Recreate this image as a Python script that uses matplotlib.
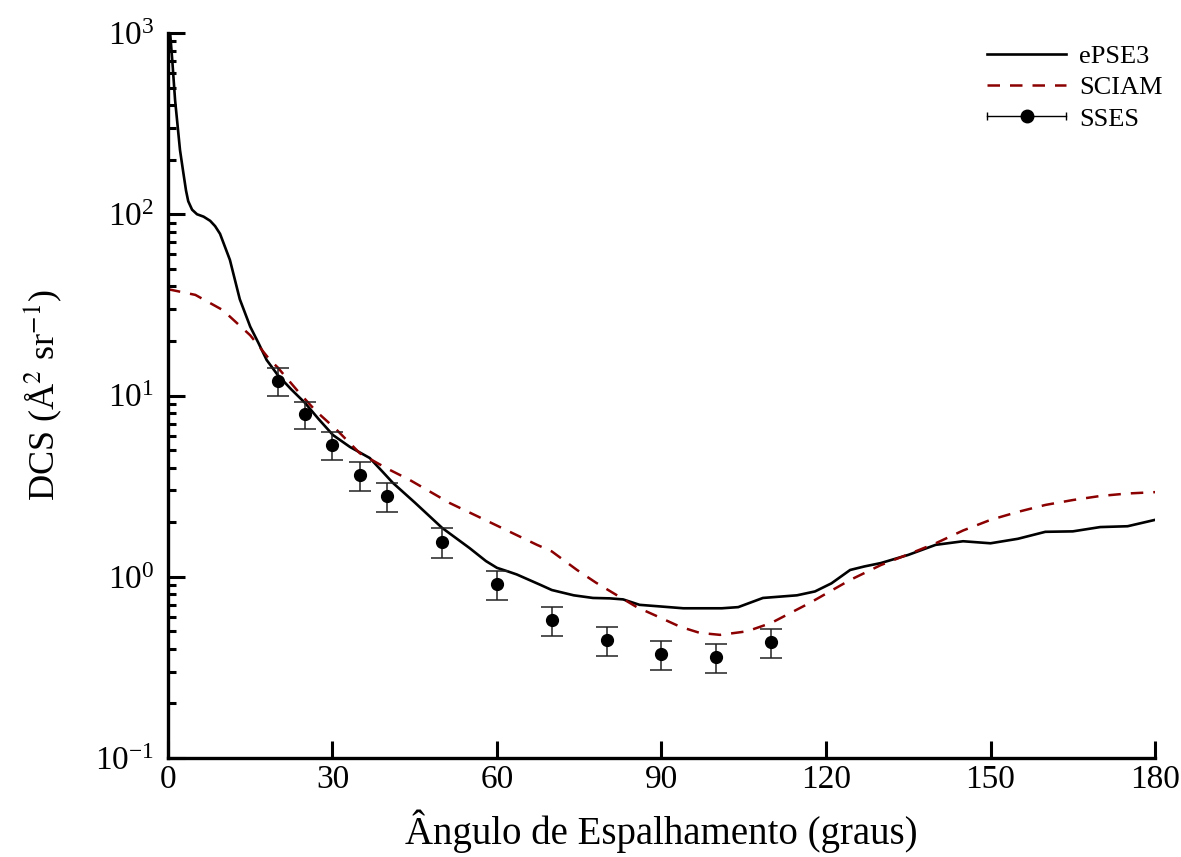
import numpy as np
import matplotlib
matplotlib.use("Agg")
import matplotlib.pyplot as plt
from matplotlib.lines import Line2D
from matplotlib.legend_handler import HandlerBase
from matplotlib.ticker import LogLocator, FixedLocator, NullLocator

plt.rcParams["font.family"] = "serif"
plt.rcParams["font.serif"] = ["Liberation Serif", "DejaVu Serif"]
plt.rcParams["mathtext.fontset"] = "stix"

# ePSE3 (curva teorica)
x_epse3 = np.array([0, 0.4, 0.8, 1.3, 1.8, 2.2, 2.8, 3.3, 3.7, 4.4, 5.3, 6.5, 7.7, 8.6,
                    9.5, 11.3, 13.1, 15, 16.5, 18, 20, 22.5, 25, 27.5, 30.1, 33.2,
                    36.8, 39.2, 41, 45, 50, 55, 58, 60, 62, 63.6, 68, 70, 74, 77.5,
                    80.6, 83, 86, 90, 94, 98, 101, 104, 108.5, 114.7, 118, 121, 124.4,
                    127, 130, 135, 140, 145, 150, 155, 160, 165, 170, 175, 180])
y_epse3 = np.array([1500, 1000, 700, 427, 300, 226, 170, 135, 118, 106, 100, 97, 92, 86,
                    78, 56, 34, 24, 19.5, 15.7, 13.0, 10.8, 9.1, 7.4, 6.05, 5.2, 4.52,
                    3.78, 3.3, 2.57, 1.86, 1.44, 1.22, 1.12, 1.07, 1.03, 0.90, 0.845,
                    0.79, 0.764, 0.76, 0.75, 0.70, 0.685, 0.67, 0.67, 0.67, 0.68,
                    0.764, 0.79, 0.83, 0.92, 1.09, 1.14, 1.19, 1.32, 1.5, 1.57, 1.53,
                    1.62, 1.77, 1.78, 1.88, 1.9, 2.06])

# SCIAM
x_sciam = np.array([0, 5, 10, 15, 18.6, 20, 24, 27, 30.8, 35, 40, 44.1, 51.4, 58.7,
                    67.3, 70, 74.6, 78, 81, 85.5, 89.5, 93.4, 97, 100.7, 105.6, 110,
                    117, 124.4, 130, 135, 140, 145, 150, 155, 160, 165, 170, 175, 180])
y_sciam = np.array([38.6, 35.9, 29.6, 21.5, 15.7, 14.3, 10.3, 8.2, 6.45, 4.8, 3.95,
                    3.42, 2.55, 2.0, 1.5, 1.38, 1.09, 0.93, 0.82, 0.68, 0.6, 0.53,
                    0.49, 0.478, 0.50, 0.556, 0.716, 0.96, 1.16, 1.33, 1.53, 1.8,
                    2.06, 2.28, 2.49, 2.65, 2.79, 2.88, 2.93])

# SSES (experimental)
x_sses = np.array([20, 25, 30, 35, 40, 50, 60, 70, 80, 90, 100, 110])
y_sses = np.array([12.0, 7.9, 5.33, 3.64, 2.79, 1.56, 0.91, 0.577, 0.448, 0.375, 0.36, 0.436])
err_sses = np.array([2.1, 1.35, 0.95, 0.66, 0.5, 0.29, 0.165, 0.105, 0.082, 0.068, 0.065, 0.08])

x_ticks = [0, 30, 60, 90, 120, 150, 180]


class HandlerHErr(HandlerBase):
    # legenda com barra horizontal e marcador no meio
    def create_artists(self, legend, orig_handle, xdescent, ydescent, width,
                       height, fontsize, trans):
        y = height / 2 - ydescent
        x0, x1 = -xdescent, width - xdescent
        line = Line2D([x0, x1], [y, y], color="k", lw=1)
        caps = Line2D([x0, x1], [y, y], ls="none", marker="|", ms=6, mew=1, color="k")
        dot = Line2D([(x0 + x1) / 2], [y], ls="none", marker="o", ms=9, color="k")
        for a in (line, caps, dot):
            a.set_transform(trans)
        return [line, caps, dot]


fig = plt.figure(figsize=(11.81, 8.57), dpi=100)
ax = fig.add_axes([0.1422, 0.1155, 0.8358, 0.846])

l1, = ax.plot(x_epse3, y_epse3, color="black", lw=1.9, label="ePSE3")
l2, = ax.plot(x_sciam, y_sciam, color="#8b0000", lw=1.8, ls=(0, (5, 4)), label="SCIAM")
eb = ax.errorbar(x_sses, y_sses, yerr=err_sses, fmt="o", color="black", ms=8.5,
                 ecolor="#222222", elinewidth=1.1, capsize=8, capthick=1.1, label="SSES")

ax.set_yscale("log")
ax.set_xlim(0, 180)
ax.set_ylim(0.1, 1000)
ax.xaxis.set_major_locator(FixedLocator(x_ticks))
ax.xaxis.set_minor_locator(NullLocator())
ax.yaxis.set_major_locator(LogLocator(base=10, numticks=10))
ax.yaxis.set_minor_locator(LogLocator(base=10, subs=np.arange(2, 10), numticks=10))

for s in ["top", "right"]:
    ax.spines[s].set_visible(False)
for s in ["left", "bottom"]:
    ax.spines[s].set_linewidth(2.4)

ax.tick_params(which="major", direction="in", length=12, width=2.2, labelsize=24)
ax.tick_params(which="minor", direction="in", length=6, width=2.2)
ax.tick_params(axis="y", which="major", pad=10)
ax.tick_params(axis="x", which="major", pad=5)

ax.set_xlabel("Ângulo de Espalhamento (graus)", fontsize=28, va="bottom")
ax.xaxis.set_label_coords(0.5, -0.131)
ax.set_ylabel(r"DCS (Å$^{2}$ sr$^{-1}$)", fontsize=26, labelpad=22)

ax.legend([l1, l2, eb], ["ePSE3", "SCIAM", "SSES"], handler_map={eb: HandlerHErr()},
          frameon=False, fontsize=19, handlelength=3.0, handletextpad=0.5,
          labelspacing=0.3, loc="upper left", bbox_to_anchor=(0.8156, 0.976),
          bbox_transform=fig.transFigure)

fig.savefig("out.png", dpi=100)
